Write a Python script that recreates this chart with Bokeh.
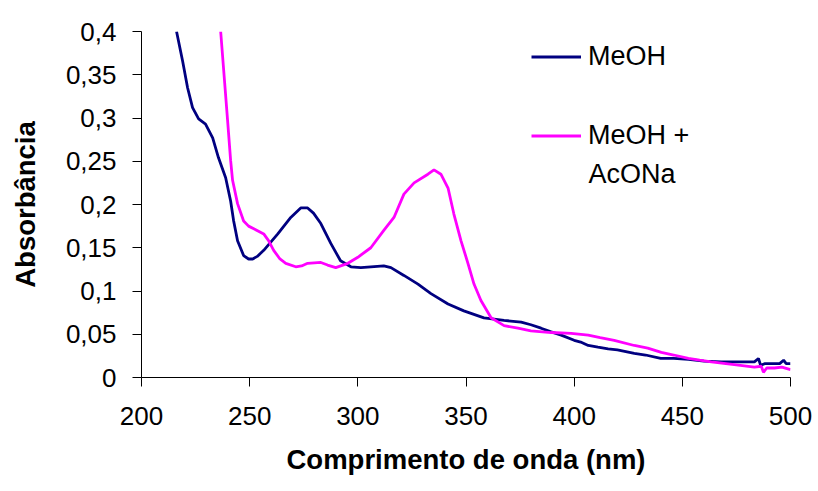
from bokeh.plotting import figure
from bokeh.models import (ColumnDataSource, FixedTicker, Legend, LegendItem,
                          Label, Range1d)
from bokeh.embed import file_html
from bokeh.resources import INLINE

# UV spectrum in methanol
meoh_nm = [216.2, 219.0, 221.3, 223.6, 226.4, 229.6, 232.9, 235.6, 238.9, 241.2,
           242.6, 244.4, 247.2, 249.5, 251.4, 253.5, 256.5, 263.0, 269.0, 273.6,
           276.8, 279.5, 282.9, 287.5, 292.0, 296.8, 301.4, 306.0, 312.0, 315.3,
           321.3, 327.8, 333.8, 341.7, 349.0, 358.3, 367.6, 375.5, 380.0, 384.7,
           389.0, 394.0, 400.0, 403.0, 406.5, 411.0, 415.7, 420.0, 427.8, 433.0,
           440.0, 446.0, 452.8, 460.0, 468.0, 476.0, 483.3, 485.2, 486.2, 488.0,
           492.6, 495.0, 496.8, 498.0, 500.0]
meoh_abs = [0.400, 0.366, 0.335, 0.312, 0.299, 0.293, 0.277, 0.254, 0.231, 0.204,
            0.181, 0.158, 0.141, 0.137, 0.137, 0.140, 0.147, 0.166, 0.185, 0.196,
            0.196, 0.190, 0.178, 0.155, 0.135, 0.128, 0.127, 0.128, 0.129, 0.127,
            0.118, 0.108, 0.097, 0.085, 0.077, 0.069, 0.066, 0.064, 0.061, 0.057,
            0.053, 0.049, 0.043, 0.041, 0.037, 0.035, 0.033, 0.032, 0.028, 0.026,
            0.022, 0.022, 0.021, 0.019, 0.018, 0.018, 0.018, 0.022, 0.014, 0.016,
            0.016, 0.016, 0.020, 0.016, 0.016]

# UV spectrum in methanol with sodium acetate
acona_nm = [236.6, 239.8, 241.2, 242.1, 244.4, 247.2, 249.5, 251.9, 256.5, 258.8,
            261.1, 264.0, 266.7, 271.3, 274.0, 276.8, 282.9, 286.0, 289.8, 295.4,
            300.0, 306.0, 312.0, 316.7, 321.3, 326.0, 332.4, 335.2, 338.4, 341.7,
            344.4, 347.7, 350.9, 353.7, 356.9, 361.6, 367.6, 374.0, 380.0, 389.4,
            398.6, 406.5, 412.0, 418.5, 427.8, 434.0, 440.3, 446.0, 452.8, 458.0,
            463.4, 474.0, 483.3, 486.5, 487.5, 489.0, 492.6, 496.0, 500.0]
acona_abs = [0.400, 0.297, 0.251, 0.228, 0.201, 0.181, 0.175, 0.172, 0.166, 0.158,
             0.147, 0.137, 0.132, 0.128, 0.129, 0.132, 0.133, 0.130, 0.127, 0.132,
             0.139, 0.150, 0.170, 0.185, 0.212, 0.225, 0.235, 0.240, 0.235, 0.219,
             0.189, 0.158, 0.132, 0.108, 0.089, 0.069, 0.060, 0.057, 0.054, 0.052,
             0.051, 0.049, 0.046, 0.043, 0.037, 0.034, 0.029, 0.026, 0.022, 0.020,
             0.018, 0.015, 0.012, 0.013, 0.006, 0.011, 0.011, 0.012, 0.009]

x_ticks = [200, 250, 300, 350, 400, 450, 500]
y_ticks = [0, 0.05, 0.1, 0.15, 0.2, 0.25, 0.3, 0.35, 0.4]
y_tick_labels = ["0", "0,05", "0,1", "0,15", "0,2", "0,25", "0,3", "0,35", "0,4"]

series_names = ["MeOH", "MeOH +", "AcONa"]
colors = ["#000080", "#FF00FF"]

FONT = "Liberation Sans"
FS = "26px"
LEGEND_FS = "27px"
TITLE_FS = "27.5px"

p = figure(width=818, height=491, output_backend="svg", toolbar_location=None,
           x_range=Range1d(200, 500), y_range=Range1d(0, 0.4),
           min_border_left=141, min_border_right=28, min_border_top=31,
           min_border_bottom=114)
p.outline_line_color = None
p.xgrid.visible = False
p.ygrid.visible = False
p.background_fill_color = "white"
p.border_fill_color = "white"

src1 = ColumnDataSource(dict(x=meoh_nm, y=meoh_abs))
src2 = ColumnDataSource(dict(x=acona_nm, y=acona_abs))
r1 = p.line("x", "y", source=src1, line_color=colors[0], line_width=2.8)
r2 = p.line("x", "y", source=src2, line_color=colors[1], line_width=2.8)

for ax in (p.xaxis[0], p.yaxis[0]):
    ax.axis_line_color = "black"
    ax.axis_line_width = 1
    ax.major_tick_line_color = "black"
    ax.major_tick_in = 0
    ax.major_tick_out = 9
    ax.minor_tick_line_color = None
    ax.major_label_text_font = FONT
    ax.major_label_text_font_size = FS
    ax.major_label_text_color = "black"
    ax.axis_label_text_font = FONT
    ax.axis_label_text_font_size = TITLE_FS
    ax.axis_label_text_font_style = "bold"
    ax.axis_label_text_color = "black"

p.xaxis.ticker = FixedTicker(ticks=x_ticks)
p.yaxis.ticker = FixedTicker(ticks=y_ticks)
p.yaxis.major_label_overrides = {t: s for t, s in zip(y_ticks, y_tick_labels)}
p.xaxis.major_label_standoff = 20
p.yaxis.major_label_standoff = 16
p.xaxis.axis_label = "Comprimento de onda (nm)"
p.yaxis.axis_label = "Absorbância"
p.xaxis.axis_label_standoff = 16
p.yaxis.axis_label_standoff = 22

legend = Legend(items=[LegendItem(label=series_names[0], renderers=[r1]),
                       LegendItem(label=series_names[1], renderers=[r2])],
                location=(390, 226), orientation="vertical",
                border_line_color=None, background_fill_alpha=0,
                padding=0, margin=0, spacing=48,
                glyph_width=50, glyph_height=31, label_height=31,
                label_standoff=7, label_text_font=FONT,
                label_text_font_size=LEGEND_FS, label_text_color="black")
p.add_layout(legend)

p.add_layout(Label(x=447, y=204, x_units="screen", y_units="screen",
                   text=series_names[2], text_font=FONT,
                   text_font_size=LEGEND_FS,
                   text_baseline="middle", text_color="black"))

open("out.html", "w").write(file_html(p, INLINE))
